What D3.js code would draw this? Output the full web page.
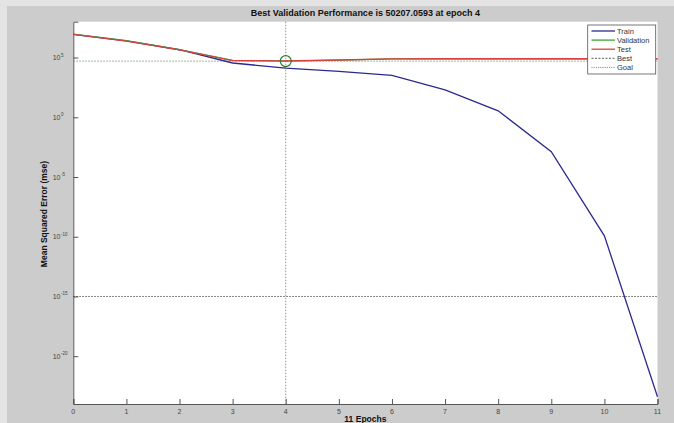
<!DOCTYPE html>
<html>
<head>
<meta charset="utf-8">
<script src="https://cdn.jsdelivr.net/npm/d3@7"></script>
<style>
  body { margin: 0; background: #cccccc; }
  svg { display: block; font-family: "Liberation Sans", Arial, sans-serif; }
</style>
</head>
<body>
<div id="chart"></div>
<script>
const epochs = [0, 1, 2, 3, 4, 5, 6, 7, 8, 9, 10, 11];
const train = [8.7e6, 2.5e6, 4.5e5, 3.5e4, 1.3e4, 7e3, 3.2e3, 2.0e2, 3.5, 1.3e-3, 1.2e-10, 4e-24];
const validation = [9e6, 2.6e6, 4.6e5, 5.7e4, 50207.0593, 6.0e4, 7.6e4, 7.6e4, 7.6e4, 7.6e4, 7.6e4, 7.6e4];
const test = [8.6e6, 2.4e6, 4.4e5, 5.6e4, 5.2e4, 6.2e4, 7.8e4, 7.9e4, 7.9e4, 7.9e4, 7.9e4, 7.9e4];
const bestEpoch = 4;
const bestPerf = 50207.0593;
const goal = 1e-15;
const xTicks = [0, 1, 2, 3, 4, 5, 6, 7, 8, 9, 10, 11];
const yTickExps = [5, 0, -5, -10, -15, -20];
const legendNames = ['Train', 'Validation', 'Test', 'Best', 'Goal'];

const width = 674, height = 423;
const plotLeft = 73.3, plotRight = 657.5, plotTop = 21.7, plotBottom = 404;

const svg = d3.select('#chart').append('svg')
  .attr('width', width)
  .attr('height', height);

svg.append('rect').attr('width', width).attr('height', height).attr('fill', '#cccccc');
svg.append('rect').attr('width', width).attr('height', 6).attr('fill', '#e4e4e4');
svg.append('rect').attr('width', 7).attr('height', height).attr('fill', '#e4e4e4');

const x = d3.scaleLinear().domain([0, 11]).range([plotLeft, plotRight]);
const y = d3.scaleLog().domain([1e-24, 1e8]).range([plotBottom, plotTop]);

svg.append('rect')
  .attr('x', plotLeft).attr('y', plotTop)
  .attr('width', plotRight - plotLeft).attr('height', plotBottom - plotTop)
  .attr('fill', 'white');

// axes
const xAxis = svg.append('g')
  .attr('transform', `translate(0,${plotBottom})`)
  .call(d3.axisTop(x).tickValues(xTicks).tickSize(5).tickFormat(''));
xAxis.select('.domain').attr('stroke', '#555');
xAxis.selectAll('.tick line').attr('stroke', '#555');

svg.selectAll('.xlab').data(xTicks).join('text')
  .attr('class', 'xlab')
  .attr('x', d => x(d))
  .attr('y', plotBottom + 9.5)
  .attr('text-anchor', 'middle')
  .attr('font-size', 7)
  .attr('fill', '#444')
  .text(d => d);

const yAxis = svg.append('g')
  .attr('transform', `translate(${plotLeft},0)`)
  .call(d3.axisRight(y).tickValues(yTickExps.map(e => Math.pow(10, e))).tickSize(5).tickFormat(''));
yAxis.select('.domain').attr('stroke', '#555');
yAxis.selectAll('.tick line').attr('stroke', '#555');

const ylab = svg.selectAll('.ylab').data(yTickExps).join('g')
  .attr('class', 'ylab')
  .attr('transform', d => `translate(60.5,${y(Math.pow(10, d)) + 2.5})`);
ylab.append('text')
  .attr('text-anchor', 'end')
  .attr('font-size', 7)
  .attr('fill', '#444')
  .text('10');
ylab.append('text')
  .attr('x', 0.5)
  .attr('y', -3.5)
  .attr('font-size', 4.5)
  .attr('fill', '#444')
  .text(d => d);

// reference lines
svg.append('line')
  .attr('x1', plotLeft).attr('x2', plotRight)
  .attr('y1', y(goal)).attr('y2', y(goal))
  .attr('stroke', '#333').attr('stroke-width', 0.8).attr('stroke-dasharray', '1.5,1.5');
svg.append('line')
  .attr('x1', plotLeft).attr('x2', plotRight)
  .attr('y1', y(bestPerf)).attr('y2', y(bestPerf))
  .attr('stroke', '#6f9a6f').attr('stroke-width', 0.9).attr('stroke-dasharray', '1.5,1.5');
svg.append('line')
  .attr('x1', x(bestEpoch)).attr('x2', x(bestEpoch))
  .attr('y1', plotTop).attr('y2', plotBottom)
  .attr('stroke', '#6f9a6f').attr('stroke-width', 0.9).attr('stroke-dasharray', '1.5,1.5');

const line = d3.line().x((d, i) => x(epochs[i])).y(d => y(d));
const series = [
  {name: 'Train', values: train, color: '#2a2a90'},
  {name: 'Validation', values: validation, color: '#3aa43a'},
  {name: 'Test', values: test, color: '#d84040'}
];
svg.selectAll('.series').data(series).join('path')
  .attr('class', 'series')
  .attr('d', d => line(d.values))
  .attr('fill', 'none')
  .attr('stroke', d => d.color)
  .attr('stroke-width', 1.3);

svg.append('circle')
  .attr('cx', x(bestEpoch)).attr('cy', y(bestPerf))
  .attr('r', 5.5)
  .attr('fill', 'none')
  .attr('stroke', '#2f7a2f')
  .attr('stroke-width', 1.2);

// titles
svg.append('text')
  .attr('x', (plotLeft + plotRight) / 2).attr('y', 16)
  .attr('text-anchor', 'middle')
  .attr('font-size', 9)
  .attr('font-weight', 'bold')
  .attr('fill', '#111')
  .text(`Best Validation Performance is ${bestPerf} at epoch ${bestEpoch}`);

svg.append('text')
  .attr('x', (plotLeft + plotRight) / 2).attr('y', 421.5)
  .attr('text-anchor', 'middle')
  .attr('font-size', 8.5)
  .attr('font-weight', 'bold')
  .attr('fill', '#111')
  .text(`${epochs.length - 1} Epochs`);

svg.append('text')
  .attr('transform', `translate(46.5,214) rotate(-90)`)
  .attr('text-anchor', 'middle')
  .attr('font-size', 8.5)
  .attr('font-weight', 'bold')
  .attr('fill', '#111')
  .text('Mean Squared Error  (mse)');

// legend
const lg = svg.append('g');
lg.append('rect')
  .attr('x', 587.7).attr('y', 25)
  .attr('width', 68).attr('height', 49)
  .attr('fill', 'white')
  .attr('stroke', '#555').attr('stroke-width', 0.8);
const legendStyle = [
  {color: '#2a2a90', dash: null},
  {color: '#3aa43a', dash: null},
  {color: '#d84040', dash: null},
  {color: '#333', dash: '2,1.5'},
  {color: '#555', dash: '1,1.2'}
];
const rows = lg.selectAll('.lrow').data(legendNames).join('g')
  .attr('class', 'lrow')
  .attr('transform', (d, i) => `translate(0,${31 + i * 9.1})`);
rows.append('line')
  .attr('x1', 591.5).attr('x2', 615)
  .attr('stroke', (d, i) => legendStyle[i].color)
  .attr('stroke-width', (d, i) => i < 3 ? 1.3 : 0.8)
  .attr('stroke-dasharray', (d, i) => legendStyle[i].dash);
rows.append('text')
  .attr('x', 617).attr('y', 2.7)
  .attr('font-size', 7.5)
  .attr('fill', '#333')
  .text(d => d);
</script>
</body>
</html>
